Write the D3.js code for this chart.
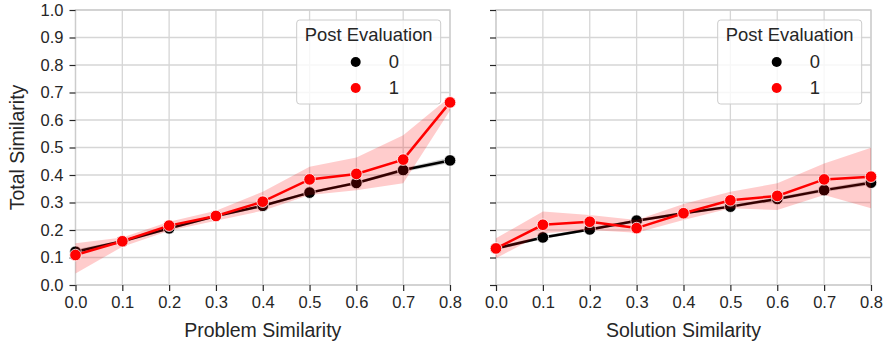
<!DOCTYPE html>
<html>
<head>
<meta charset="utf-8">
<script src="https://cdn.jsdelivr.net/npm/d3@7"></script>
<style>
  body { margin: 0; background: #fff; }
  svg { display: block; font-family: "Liberation Sans", Arial, sans-serif; }
</style>
</head>
<body>
<svg width="885" height="347"></svg>
<script>
// x values shared by both panels
var xVals = [0, 0.1, 0.2, 0.3, 0.4, 0.5, 0.6, 0.7, 0.8];
var yTickVals = [0, 0.1, 0.2, 0.3, 0.4, 0.5, 0.6, 0.7, 0.8, 0.9, 1.0];
var hueLabels = ['0', '1'];

// problem similarity panel
var probBlack   = [0.121, 0.159, 0.206, 0.251, 0.288, 0.336, 0.371, 0.418, 0.453];
var probBlackLo = [0.113, 0.154, 0.201, 0.246, 0.283, 0.331, 0.366, 0.411, 0.444];
var probBlackHi = [0.129, 0.164, 0.211, 0.256, 0.293, 0.341, 0.376, 0.425, 0.464];
var probRed     = [0.109, 0.159, 0.216, 0.251, 0.303, 0.384, 0.404, 0.456, 0.664];
var probRedLo   = [0.042, 0.139, 0.197, 0.234, 0.270, 0.327, 0.345, 0.370, 0.635];
var probRedHi   = [0.152, 0.173, 0.230, 0.270, 0.339, 0.430, 0.464, 0.545, 0.685];

// solution similarity panel
var solBlack   = [0.133, 0.173, 0.202, 0.234, 0.261, 0.285, 0.313, 0.345, 0.372];
var solBlackLo = [0.127, 0.167, 0.197, 0.229, 0.256, 0.280, 0.307, 0.338, 0.364];
var solBlackHi = [0.139, 0.179, 0.207, 0.239, 0.266, 0.290, 0.319, 0.352, 0.380];
var solRed     = [0.133, 0.219, 0.230, 0.207, 0.261, 0.308, 0.324, 0.384, 0.394];
var solRedLo   = [0.097, 0.188, 0.200, 0.190, 0.236, 0.279, 0.273, 0.327, 0.279];
var solRedHi   = [0.170, 0.267, 0.255, 0.236, 0.295, 0.339, 0.370, 0.442, 0.499];

var svg = d3.select('svg');
var textColor = '#262626';
var gridColor = '#d6d6d6';

// y scale is shared
var yScale = d3.scaleLinear().domain([0, 1]).range([285, 10]);

var panels = [
  { left: 75.5, right: 450, label: 'Problem Similarity', showY: true,
    series: [
      { color: '#000', band: 'rgba(0,0,0,0.2)', y: probBlack, lo: probBlackLo, hi: probBlackHi },
      { color: '#ff0000', band: 'rgba(255,0,0,0.2)', y: probRed, lo: probRedLo, hi: probRedHi }
    ] },
  { left: 496, right: 871, label: 'Solution Similarity', showY: false,
    series: [
      { color: '#000', band: 'rgba(0,0,0,0.2)', y: solBlack, lo: solBlackLo, hi: solBlackHi },
      { color: '#ff0000', band: 'rgba(255,0,0,0.2)', y: solRed, lo: solRedLo, hi: solRedHi }
    ] }
];

panels.forEach(function(p, pi) {
  var xScale = d3.scaleLinear().domain([0, 0.8]).range([p.left, p.right]);
  var g = svg.append('g');

  // grid
  g.selectAll('.gx').data(xVals).enter().append('line')
    .attr('x1', function(d) { return xScale(d); })
    .attr('x2', function(d) { return xScale(d); })
    .attr('y1', yScale(0)).attr('y2', yScale(1))
    .attr('stroke', gridColor).attr('stroke-width', 1.3);
  g.selectAll('.gy').data(yTickVals).enter().append('line')
    .attr('x1', p.left).attr('x2', p.right)
    .attr('y1', function(d) { return yScale(d); })
    .attr('y2', function(d) { return yScale(d); })
    .attr('stroke', gridColor).attr('stroke-width', 1.3);

  // spines
  g.append('rect')
    .attr('x', p.left).attr('y', yScale(1))
    .attr('width', p.right - p.left).attr('height', yScale(0) - yScale(1))
    .attr('fill', 'none').attr('stroke', '#cccccc').attr('stroke-width', 1.3);

  // axes (ticks only, labels via axis)
  var xAxis = d3.axisBottom(xScale).tickValues(xVals).tickSize(6).tickPadding(5)
    .tickFormat(d3.format('.1f'));
  var xg = g.append('g').attr('transform', 'translate(0,' + yScale(0) + ')').call(xAxis);
  xg.select('.domain').remove();
  xg.selectAll('line').attr('stroke', textColor).attr('stroke-width', 1.2);
  xg.selectAll('text').attr('fill', textColor).style('font-size', '16.5px')
    .style('font-family', '"Liberation Sans", Arial, sans-serif');

  var yAxis = d3.axisLeft(yScale).tickValues(yTickVals).tickSize(6).tickPadding(6)
    .tickFormat(p.showY ? d3.format('.1f') : '');
  var yg = g.append('g').attr('transform', 'translate(' + p.left + ',0)').call(yAxis);
  yg.select('.domain').remove();
  yg.selectAll('line').attr('stroke', textColor).attr('stroke-width', 1.2);
  yg.selectAll('text').attr('fill', textColor).style('font-size', '16.5px')
    .style('font-family', '"Liberation Sans", Arial, sans-serif');

  // x label
  g.append('text')
    .attr('x', (p.left + p.right) / 2).attr('y', 337)
    .attr('text-anchor', 'middle').attr('fill', textColor)
    .style('font-size', '19.5px')
    .text(p.label);

  // series
  var area = d3.area()
    .x(function(d) { return xScale(d.x); })
    .y0(function(d) { return yScale(d.lo); })
    .y1(function(d) { return yScale(d.hi); });
  var line = d3.line()
    .x(function(d) { return xScale(d.x); })
    .y(function(d) { return yScale(d.y); });

  p.series.forEach(function(s) {
    var pts = xVals.map(function(x, i) {
      return { x: x, y: s.y[i], lo: s.lo[i], hi: s.hi[i] };
    });
    g.append('path').datum(pts).attr('d', area).attr('fill', s.band);
    g.append('path').datum(pts).attr('d', line)
      .attr('fill', 'none').attr('stroke', s.color).attr('stroke-width', 2.5);
    g.selectAll(null).data(pts).enter().append('circle')
      .attr('cx', function(d) { return xScale(d.x); })
      .attr('cy', function(d) { return yScale(d.y); })
      .attr('r', 5.8)
      .attr('fill', s.color).attr('stroke', '#fff').attr('stroke-width', 0.8);
  });

  // legend
  var lx = p.right - 9.3 - 144;
  var lg = g.append('g').attr('transform', 'translate(' + lx + ',20)');
  lg.append('rect')
    .attr('x', 0).attr('y', 0).attr('width', 144).attr('height', 84)
    .attr('rx', 3).attr('fill', 'rgba(255,255,255,0.8)')
    .attr('stroke', '#cccccc').attr('stroke-width', 1);
  lg.append('text')
    .attr('x', 72).attr('y', 21).attr('text-anchor', 'middle')
    .attr('fill', textColor).style('font-size', '18.4px')
    .text('Post Evaluation');
  p.series.forEach(function(s, i) {
    lg.append('circle')
      .attr('cx', 59).attr('cy', 42 + i * 26).attr('r', 5)
      .attr('fill', s.color);
    lg.append('text')
      .attr('x', 92).attr('y', 48 + i * 26)
      .attr('fill', textColor).style('font-size', '18.4px')
      .text(hueLabels[i]);
  });
});

// y label
svg.append('text')
  .attr('transform', 'translate(24,' + yScale(0.5) + ') rotate(-90)')
  .attr('text-anchor', 'middle').attr('fill', textColor)
  .style('font-size', '19.5px')
  .text('Total Similarity');
</script>
</body>
</html>
